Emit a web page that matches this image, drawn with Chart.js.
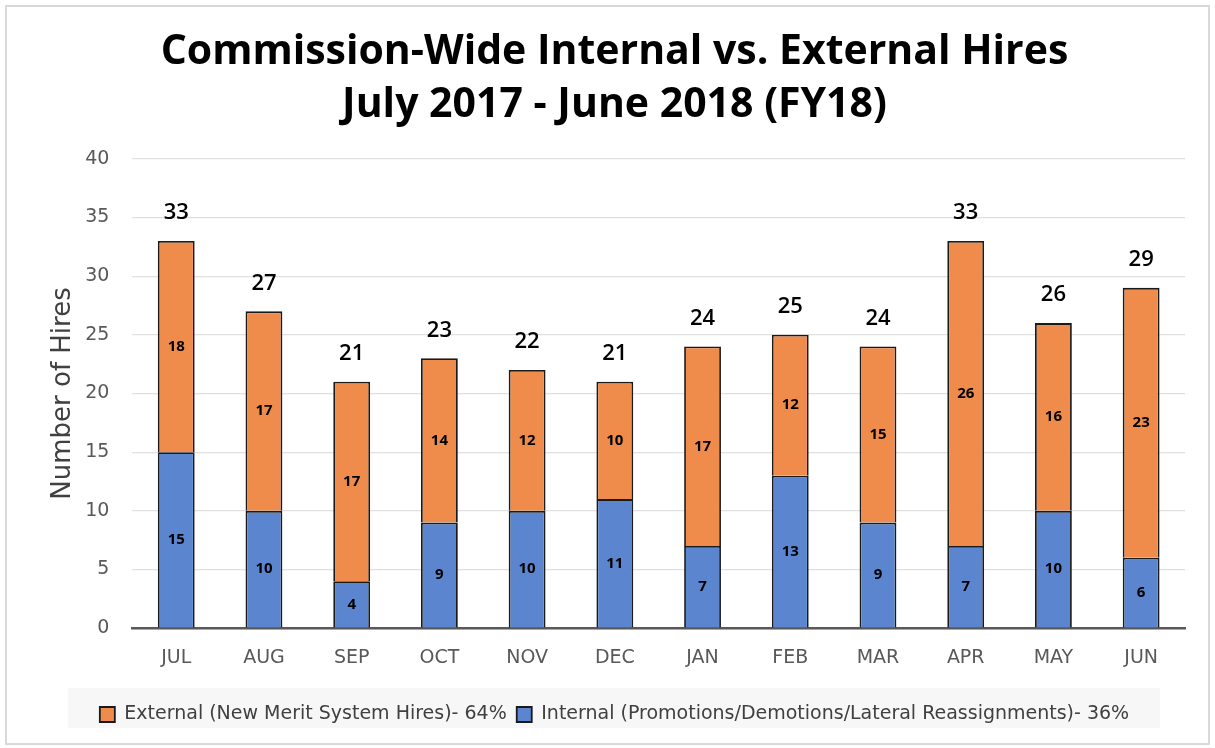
<!DOCTYPE html>
<html><head><meta charset="utf-8">
<script src="https://cdn.jsdelivr.net/npm/chart.js@4/dist/chart.umd.min.js"></script>
<style>html,body{margin:0;padding:0;background:#fff}#wrap{width:1215px;height:748px;position:relative}</style>
</head><body><div id="wrap"><canvas id="c" width="1215" height="748"></canvas></div>
<script>
const months = ["JUL","AUG","SEP","OCT","NOV","DEC","JAN","FEB","MAR","APR","MAY","JUN"];
const internalHires = [15,10,4,9,10,11,7,13,9,7,10,6];
const externalHires = [18,17,17,14,12,10,17,12,15,26,16,23];
const totals = [33,27,21,23,22,21,24,25,24,33,26,29];
const titleLines = ["Commission-Wide Internal vs. External Hires","July 2017 - June 2018 (FY18)"];
const internalLabel = "Internal (Promotions/Demotions/Lateral Reassignments)- 36%";
const externalLabel = "External (New Merit System Hires)- 64%";

const labelPlugin = {
  id: 'labels',
  beforeDraw(chart){
    const ctx = chart.ctx;
    ctx.save();
    ctx.fillStyle = '#fff';
    ctx.fillRect(0,0,chart.width,chart.height);
    ctx.strokeStyle = '#d9d9d9';
    ctx.lineWidth = 2;
    ctx.strokeRect(6,6,chart.width-12,chart.height-10);
    const lg = chart.legend;
    ctx.fillStyle = '#f7f7f7';
    ctx.fillRect(68, lg.top - 7, 1092, 40);
    ctx.restore();
  },
  afterDatasetsDraw(chart){
    const ctx = chart.ctx;
    ctx.save();
    ctx.textAlign = 'center';
    ctx.textBaseline = 'middle';
    ctx.font = 'bold 15px "Open Sans", sans-serif';
    ctx.fillStyle = '#000';
    [0,1].forEach(di => {
      const meta = chart.getDatasetMeta(di);
      meta.data.forEach((bar, i) => {
        const v = chart.data.datasets[di].data[i];
        ctx.fillText(String(v), bar.x, (bar.y + bar.base)/2);
      });
    });
    ctx.font = '600 22px "Open Sans", sans-serif';
    const meta = chart.getDatasetMeta(1);
    meta.data.forEach((bar, i) => {
      ctx.fillText(String(totals[i]), bar.x, bar.y - 28);
    });
    ctx.restore();
  }
};

const axisFont = {family: '"DejaVu Sans", sans-serif', size: 19};

new Chart(document.getElementById('c'), {
  type: 'bar',
  data: {
    labels: months,
    datasets: [
      {label: internalLabel, data: internalHires, backgroundColor: '#5b86cf', borderColor: '#1a1a1a', borderWidth: 1.8, barPercentage: 0.42, categoryPercentage: 1.0},
      {label: externalLabel, data: externalHires, backgroundColor: '#ef8c4c', borderColor: '#1a1a1a', borderWidth: 1.8, barPercentage: 0.42, categoryPercentage: 1.0}
    ]
  },
  options: {
    responsive: false,
    animation: false,
    layout: {padding: {left: 44, right: 30, top: 10, bottom: 14}},
    plugins: {
      title: {display: true, text: titleLines, color: '#000', font: {family: '"Open Sans"', size: 41, weight: 'bold', lineHeight: 1.29}, padding: {top: 16, bottom: 27}},
      legend: {position: 'bottom', reverse: true, labels: {color: '#404040', font: {family: '"DejaVu Sans", sans-serif', size: 19}, boxWidth: 15, boxHeight: 15, padding: 10, useBorderRadius: false}},
      tooltip: {enabled: false}
    },
    scales: {
      x: {stacked: true, grid: {display: false}, border: {color: '#595959', width: 2.5},
          ticks: {color: '#595959', font: axisFont, padding: 10},
          afterFit(scale){ scale.height += 16; }},
      y: {stacked: true, min: 0, max: 40, grid: {color: '#e0e0e0', lineWidth: 1.2, drawTicks: false}, border: {display: false},
          ticks: {stepSize: 5, color: '#595959', font: axisFont, padding: 23},
          title: {display: true, text: 'Number of Hires', color: '#404040', font: {family: '"DejaVu Sans", sans-serif', size: 26}, padding: {top: 4, bottom: 10}},
          afterFit(scale){ scale.width -= 27; }}
    }
  },
  plugins: [labelPlugin]
});
</script></body></html>
